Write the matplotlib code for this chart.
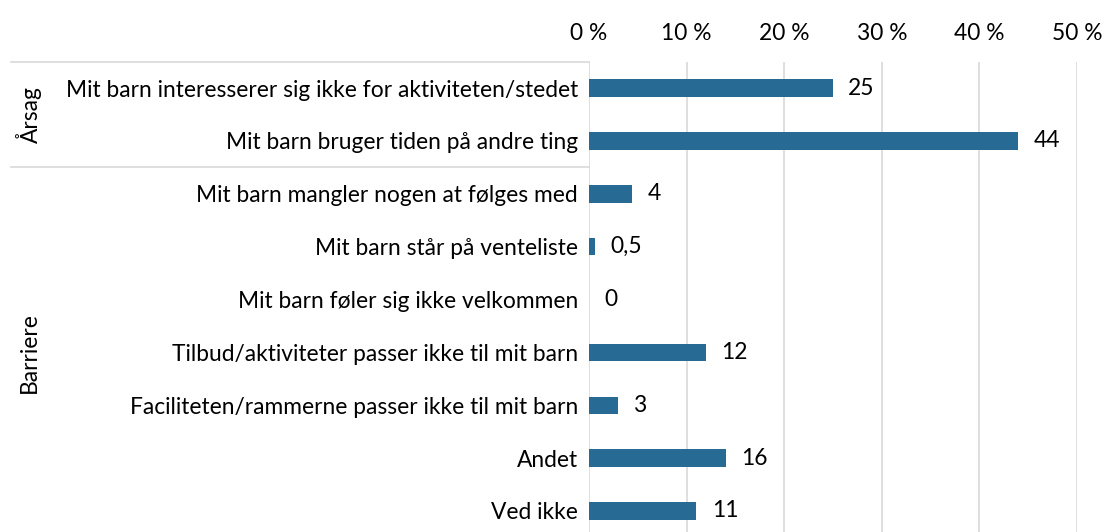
import matplotlib.pyplot as plt
import matplotlib.transforms as mtransforms
from matplotlib.ticker import FuncFormatter

# data
categories = ['Mit barn interesserer sig ikke for aktiviteten/stedet',
              'Mit barn bruger tiden på andre ting',
              'Mit barn mangler nogen at følges med',
              'Mit barn står på venteliste',
              'Mit barn føler sig ikke velkommen',
              'Tilbud/aktiviteter passer ikke til mit barn',
              'Faciliteten/rammerne passer ikke til mit barn',
              'Andet',
              'Ved ikke']
values = [25, 44, 4.4, 0.6, 0, 12, 3, 14, 11]
value_labels = ['25', '44', '4', '0,5', '0', '12', '3', '16', '11']
groups = ['Årsag', 'Barriere']
group_sizes = [2, 7]
xticks = [0, 10, 20, 30, 40, 50]

plt.rcParams['font.family'] = ['Lato', 'DejaVu Sans']
BAR_COLOR = '#276a93'
GRID_COLOR = '#d9d9d9'
FS = 16.4

fig = plt.figure(figsize=(11.05, 5.32), dpi=100)
ax = fig.add_axes([589 / 1105, -0.0102, (1077 - 589) / 1105, 0.8944])

y = list(range(len(categories)))
ax.barh(y, values, height=0.33, color=BAR_COLOR, zorder=3)

for yi, v, lab in zip(y, values, value_labels):
    ax.annotate(lab, (v, yi), xytext=(11, 0), textcoords='offset points',
                ha='left', va='center', fontsize=FS, color='#000000')

ax.set_xlim(0, 50)
ax.set_ylim(len(categories) - 0.5, -0.5)
ax.set_xticks(xticks)
ax.xaxis.set_major_formatter(FuncFormatter(lambda v, p: '%d %%' % v))
ax.xaxis.tick_top()
ax.tick_params(axis='x', length=0, pad=13, labelsize=FS)
ax.set_yticks(y)
ax.set_yticklabels(categories)
ax.tick_params(axis='y', length=0, pad=8, labelsize=FS)
ax.grid(axis='x', color=GRID_COLOR, linewidth=1.2, zorder=0)
for s in ax.spines.values():
    s.set_visible(False)

# group brackets on the left
trans = mtransforms.blended_transform_factory(fig.transFigure, ax.transData)
x0 = 11 / 1105
x1 = 589 / 1105
start = -0.5
for name, n in zip(groups, group_sizes):
    ax.plot([x0, x1], [start, start], transform=trans, color=GRID_COLOR,
            linewidth=1.2, clip_on=False)
    mid = start + n / 2
    ax.text(29 / 1105, mid, name, transform=trans, rotation=90,
            ha='center', va='center', fontsize=FS)
    start += n

fig.savefig('out.png', dpi=100)
